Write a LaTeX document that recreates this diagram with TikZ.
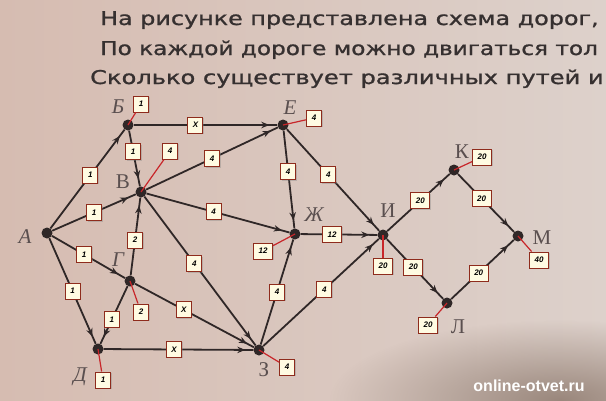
\documentclass[tikz,border=0pt]{standalone}
\usepackage{fontspec}
\setmainfont{Liberation Serif}
\setsansfont{Liberation Sans}
\newfontfamily\headfont[FakeBold=1]{DejaVu Sans}
\usetikzlibrary{arrows.meta,decorations.markings,shadows,fadings}
\definecolor{bgL}{HTML}{D6BCB1}
\definecolor{bgR}{HTML}{DDD1CB}
\definecolor{edgec}{HTML}{2F2727}
\definecolor{boxfill}{HTML}{FFFBE2}
\definecolor{boxdraw}{HTML}{8E2B1C}
\definecolor{leader}{HTML}{C8262A}
\definecolor{letterc}{HTML}{5A4F4F}
\definecolor{headc}{HTML}{363030}
\definecolor{wmdark}{HTML}{9A877C}
\tikzfading[name=wmfade,inner color=transparent!0,outer color=transparent!100]
\begin{document}
\begin{tikzpicture}[x=1pt,y=-1pt,
  dot/.style={circle,fill=edgec,inner sep=0pt,minimum size=11pt},
  road/.style={draw=edgec,line width=1.8pt,postaction={decorate},
    decoration={markings,mark=at position -8pt with {\arrow{Stealth[length=8pt,width=6.5pt]}}}},
  lbl/.style={draw=boxdraw,fill=boxfill,line width=1pt,minimum width=15pt,minimum height=16pt,
    inner sep=1pt,font=\sffamily\bfseries\itshape\fontsize{8}{8}\selectfont,text=black,
    drop shadow={shadow xshift=1pt,shadow yshift=-1pt,opacity=.35}},
  leadline/.style={draw=leader,line width=1.2pt},
  letter/.style={font=\itshape\fontsize{21}{21}\selectfont,text=letterc,inner sep=0pt},
  uletter/.style={font=\fontsize{21}{21}\selectfont,text=letterc,inner sep=0pt},
  head/.style={font=\headfont\fontsize{19}{19}\selectfont,text=headc,inner sep=0pt,anchor=base west},
  wm/.style={font=\sffamily\bfseries\fontsize{16}{16}\selectfont,text=white,inner sep=0pt}]
\useasboundingbox (0,0) rectangle (606,400);
\clip (0,0) rectangle (606,400);
\shade[left color=bgL,right color=bgR] (0,0) rectangle (606,400);
\fill[wmdark,path fading=wmfade] (330,320) rectangle (790,480);

% heading
\node[head] (t1) at (100,25) {\scalebox{1.255}[1]{На рисунке представлена схема дорог,}};
\node[head] (t2) at (100,55) {\scalebox{1.22}[1]{По каждой дороге можно двигаться тол}};
\node[head] (t3) at (90,84) {\scalebox{1.27}[1]{Сколько существует различных путей и}};

% vertices
\node[dot] (A) at (47,233) {};
\node[dot] (B) at (128,125) {};
\node[dot] (V) at (141,192) {};
\node[dot] (G) at (130,281) {};
\node[dot] (D) at (98,349) {};
\node[dot] (E) at (283,125) {};
\node[dot] (Zh) at (295,234) {};
\node[dot] (Z) at (259,350) {};
\node[dot] (I) at (383,235) {};
\node[dot] (K) at (454,170) {};
\node[dot] (M) at (518,236) {};
\node[dot] (L) at (447,303) {};

% vertex letters
\node[letter] (lA) at (25,237) {А};
\node[letter] (lB) at (118,107) {Б};
\node[uletter] (lV) at (123,182) {В};
\node[letter] (lG) at (118,260) {Г};
\node[letter] (lD) at (80,377) {Д};
\node[letter] (lE) at (290,108) {Е};
\node[letter] (lZh) at (314,215) {Ж};
\node[uletter] (lZ) at (264,370) {З};
\node[uletter] (lI) at (388,211) {И};
\node[uletter] (lK) at (462,152) {К};
\node[uletter] (lM) at (542,238) {М};
\node[uletter] (lL) at (458,327) {Л};

% roads
\draw[road] (A) -- node[lbl,pos=.54] (eAB) {1} (B);
\draw[road] (A) -- node[lbl,pos=.5] (eAV) {1} (V);
\draw[road] (A) -- node[lbl,pos=.44] (eAG) {1} (G);
\draw[road] (A) -- node[lbl,pos=.5] (eAD) {1} (D);
\draw[road] (B) -- node[lbl,pos=.43] (eBE) {X} (E);
\draw[road] (B) -- node[lbl,pos=.38] (eBV) {1} (V);
\draw[road] (V) -- node[lbl,pos=.5] (eVE) {4} (E);
\draw[road] (V) -- node[lbl,pos=.47] (eVZh) {4} (Zh);
\draw[road] (V) -- node[lbl,pos=.45] (eVZ) {4} (Z);
\draw[road] (G) -- node[lbl,pos=.455] (eGV) {2} (V);
\draw[road] (G) -- node[lbl,pos=.575] (eGD) {1} (D);
\draw[road] (G) -- node[lbl,pos=.41] (eGZ) {X} (Z);
\draw[road] (D) -- node[lbl,pos=.47] (eDZ) {X} (Z);
\draw[road] (E) -- node[lbl,pos=.42] (eEZh) {4} (Zh);
\draw[road] (E) -- node[lbl,pos=.45] (eEI) {4} (I);
\draw[road] (Zh) -- node[lbl,pos=.41,minimum width=19pt] (eZhI) {12} (I);
\draw[road] (Z) -- node[lbl,pos=.5] (eZZh) {4} (Zh);
\draw[road] (Z) -- node[lbl,pos=.53] (eZI) {4} (I);
\draw[road] (I) -- node[lbl,pos=.53,minimum width=19pt] (eIK) {20} (K);
\draw[road] (I) -- node[lbl,pos=.47,minimum width=19pt] (eIL) {20} (L);
\draw[road] (K) -- node[lbl,pos=.42,minimum width=19pt] (eKM) {20} (M);
\draw[road] (L) -- node[lbl,pos=.44,minimum width=19pt] (eLM) {20} (M);

% vertex values with leader lines
\node[lbl] (vB) at (141,104) {1};
\node[lbl] (vV) at (170,151) {4};
\node[lbl] (vE) at (314,118) {4};
\node[lbl,minimum width=19pt] (vZh) at (263,251) {12};
\node[lbl] (vG) at (141,312) {2};
\node[lbl] (vD) at (103,380) {1};
\node[lbl] (vZ) at (287,367) {4};
\node[lbl,minimum width=19pt] (vI) at (383,266) {20};
\node[lbl,minimum width=19pt] (vK) at (482,157) {20};
\node[lbl,minimum width=19pt] (vM) at (539,260) {40};
\node[lbl,minimum width=19pt] (vL) at (428,325) {20};
\draw[leadline] (B.center) -- (vB);
\draw[leadline] (V.center) -- (vV);
\draw[leadline] (E.center) -- (vE);
\draw[leadline] (Zh.center) -- (vZh);
\draw[leadline] (G.center) -- (vG);
\draw[leadline] (D.center) -- (vD);
\draw[leadline] (Z.center) -- (vZ);
\draw[leadline] (I.center) -- (vI);
\draw[leadline] (K.center) -- (vK);
\draw[leadline] (M.center) -- (vM);
\draw[leadline] (L.center) -- (vL);

% watermark
\node[wm] (wmark) at (529,386) {online-otvet.ru};
\end{tikzpicture}
\end{document}
